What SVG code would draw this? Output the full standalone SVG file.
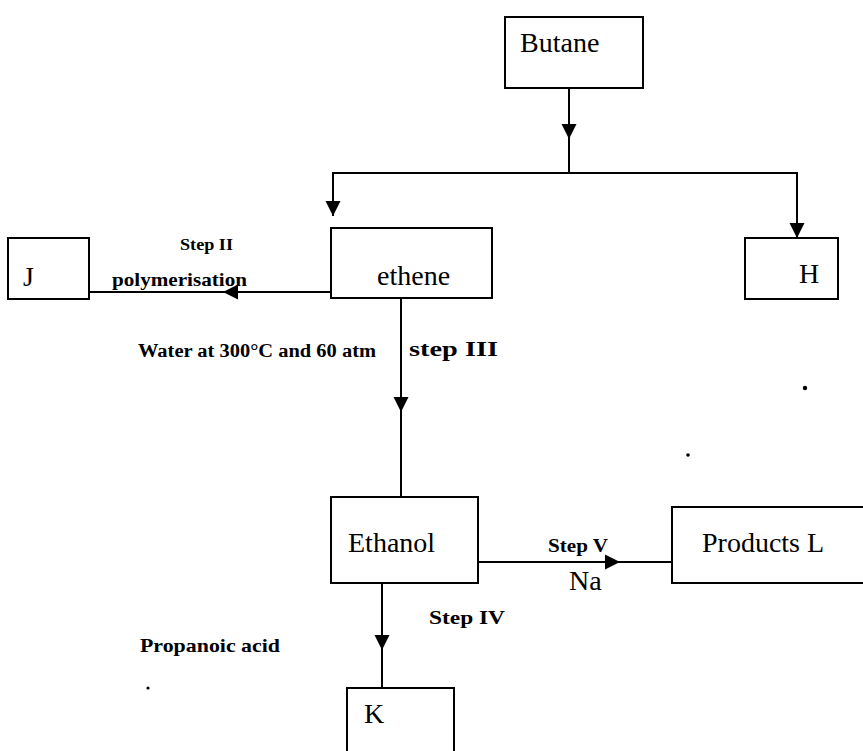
<svg xmlns="http://www.w3.org/2000/svg" width="863" height="751" viewBox="0 0 863 751">
<defs>
<style>
.box{fill:#fff;stroke:#000;stroke-width:2}
.ln{fill:none;stroke:#000;stroke-width:2}
.lbl{font-family:"Liberation Serif","Times New Roman",serif;font-size:28px;fill:#000}
.b{font-family:"Liberation Serif","Times New Roman",serif;font-weight:bold;fill:#000}
</style>
<path id="ah" d="M-7.5,-15 L7.5,-15 L0,0 Z" fill="#000"/>
</defs>
<rect width="863" height="751" fill="#fff"/>

<g id="connectors">
<path class="ln" d="M569,88 V173"/>
<path class="ln" d="M333,216 V173 H797 V238"/>
<path class="ln" d="M331,292 H89"/>
<path class="ln" d="M401,298 V497"/>
<path class="ln" d="M478,562 H672"/>
<path class="ln" d="M382,583 V688"/>
<use href="#ah" transform="translate(569,139)"/>
<use href="#ah" transform="translate(333,216)"/>
<use href="#ah" transform="translate(797,238)"/>
<use href="#ah" transform="translate(223,292) rotate(90)"/>
<use href="#ah" transform="translate(401,412)"/>
<use href="#ah" transform="translate(620,562) rotate(-90)"/>
<use href="#ah" transform="translate(382,650)"/>
</g>

<g id="butane"><rect class="box" x="505" y="17" width="138" height="71"/><text class="lbl" x="520" y="52">Butane</text></g>
<g id="ethene"><rect class="box" x="331" y="228" width="161" height="70"/><text class="lbl" x="377" y="285">ethene</text></g>
<g id="J"><rect class="box" x="8" y="238" width="81" height="61"/><text class="lbl" x="23" y="286" font-size="26">J</text></g>
<g id="H"><rect class="box" x="745" y="238" width="93" height="61"/><text class="lbl" x="799" y="283">H</text></g>
<g id="ethanol"><rect class="box" x="331" y="497" width="147" height="86"/><text class="lbl" x="348" y="552">Ethanol</text></g>
<g id="productsL"><rect class="box" x="672" y="507" width="200" height="76"/><text class="lbl" x="702" y="552">Products L</text></g>
<g id="K"><rect class="box" x="347" y="688" width="107" height="70"/><text class="lbl" x="364" y="723">K</text></g>

<g id="labels">
<text class="b" x="180" y="250" font-size="17" textLength="53" lengthAdjust="spacingAndGlyphs">Step II</text>
<text class="b" x="112" y="286" font-size="19" textLength="135" lengthAdjust="spacingAndGlyphs">polymerisation</text>
<text class="b" x="138" y="357" font-size="18" textLength="238" lengthAdjust="spacingAndGlyphs">Water at 300°C and 60 atm</text>
<text class="b" x="409" y="356" font-size="22" textLength="89" lengthAdjust="spacingAndGlyphs">step III</text>
<text class="b" x="548" y="552" font-size="19" textLength="60" lengthAdjust="spacingAndGlyphs">Step V</text>
<text class="lbl" x="569" y="590" font-size="26">Na</text>
<text class="b" x="429" y="624" font-size="19" textLength="76" lengthAdjust="spacingAndGlyphs">Step  IV</text>
<text class="b" x="140" y="652" font-size="19" textLength="140" lengthAdjust="spacingAndGlyphs">Propanoic acid</text>
</g>

<g id="specks" fill="#000">
<circle cx="805" cy="388" r="2.2"/>
<circle cx="688" cy="455" r="1.8"/>
<circle cx="148" cy="688" r="1.6"/>
</g>
</svg>
